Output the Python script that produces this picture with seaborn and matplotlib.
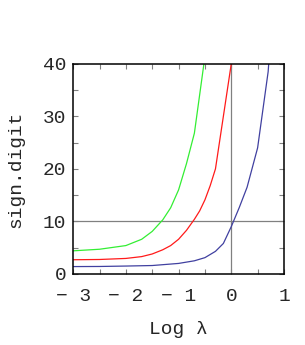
import pandas as pd
import matplotlib
matplotlib.use("Agg")
import matplotlib.pyplot as plt
import seaborn as sns
from matplotlib.ticker import MultipleLocator

# data (x = log10 lambda, y = significant digits)
green_x = [-3.0, -2.5, -2.0, -1.7, -1.5, -1.3, -1.15, -1.0, -0.85, -0.7, -0.3]
green_y = [4.4, 4.7, 5.4, 6.6, 8.1, 10.3, 12.6, 16.0, 21.0, 26.8, 56.0]

red_x = [-3.0, -2.5, -2.0, -1.7, -1.5, -1.3, -1.15, -1.0, -0.85, -0.7,
         -0.6, -0.5, -0.4, -0.3, 0.0, 0.3]
red_y = [2.7, 2.75, 2.95, 3.3, 3.8, 4.6, 5.4, 6.6, 8.3, 10.4,
         12.0, 14.1, 16.8, 20.0, 40.0, 80.0]

blue_x = [-3.0, -2.5, -2.0, -1.5, -1.0, -0.7, -0.5, -0.3, -0.15, 0.0,
          0.15, 0.3, 0.5, 0.7, 1.0]
blue_y = [1.4, 1.42, 1.5, 1.6, 2.0, 2.5, 3.1, 4.3, 5.8, 9.0,
          12.6, 16.5, 24.0, 38.5, 80.0]

x_ticks = [-3, -2, -1, 0, 1]
x_tick_labels = ["\u2212 3", "\u2212 2", "\u2212 1", "0", "1"]
y_ticks = [0, 10, 20, 30, 40]

sns.set_style("ticks")
plt.rcParams["font.family"] = ["Liberation Mono", "DejaVu Sans Mono"]

fig = plt.figure(figsize=(3.05, 3.45), dpi=100)
ax = fig.add_axes([0.240, 0.206, 0.691, 0.609])

# reference lines
ax.axhline(10, color="#808080", lw=0.9, zorder=1)
ax.axvline(0, color="#808080", lw=0.9, zorder=1)

series = [
    (green_x, green_y, "#33ee33"),
    (red_x, red_y, "#ff1a1a"),
    (blue_x, blue_y, "#4040a0"),
]
for xs, ys, col in series:
    sns.lineplot(x=xs, y=ys, ax=ax, color=col, lw=0.9, estimator=None, sort=False)

ax.set_xlim(-3, 1)
ax.set_ylim(0, 40)
ax.set_xticks(x_ticks)
ax.set_xticklabels(x_tick_labels)
ax.set_yticks(y_ticks)
ax.xaxis.set_minor_locator(MultipleLocator(0.5))
ax.yaxis.set_minor_locator(MultipleLocator(5))

ax.tick_params(which="both", direction="in", top=True, right=True,
               length=3.6, width=0.8, color="#808080", labelsize=14)
ax.tick_params(axis="x", which="major", pad=10)
ax.tick_params(axis="y", which="major", pad=5)

for sp in ax.spines.values():
    sp.set_linewidth(1.1)
    sp.set_color("black")

ax.set_xlabel("Log \u03bb", fontsize=14, labelpad=12)
ax.set_ylabel("sign.digit", fontsize=14, labelpad=13)

fig.savefig("out.png", dpi=100)
